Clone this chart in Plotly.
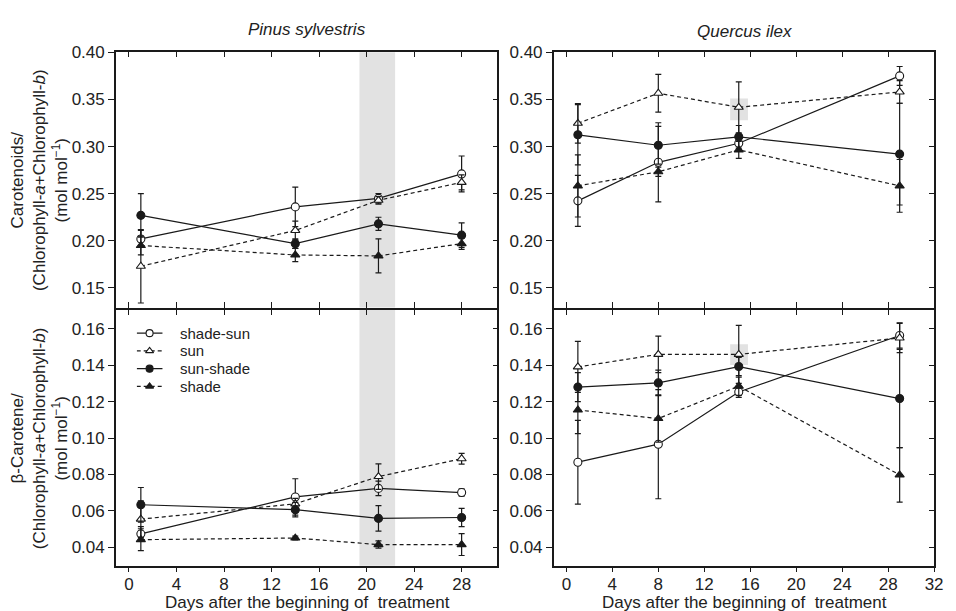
import plotly.graph_objects as go

W, H = 956, 611

# ---------------- data ----------------
series_names = ["shade-sun", "sun", "sun-shade", "shade"]
pinus_days = [1, 14, 21, 28]
quercus_days = [1, 8, 15, 29]

# Pinus sylvestris, carotenoids / (Chl a + Chl b)
pinus_car_shade_sun = [0.202, 0.236, 0.245, 0.271]
pinus_car_shade_sun_err = [0.009, 0.021, 0.005, 0.019]
pinus_car_sun = [0.173, 0.211, 0.243, 0.262]
pinus_car_sun_err = [0.039, 0.010, 0.004, 0.008]
pinus_car_sun_shade = [0.227, 0.197, 0.218, 0.206]
pinus_car_sun_shade_err = [0.023, 0.005, 0.007, 0.013]
pinus_car_shade = [0.195, 0.185, 0.184, 0.197]
pinus_car_shade_err = [0.010, 0.007, 0.018, 0.006]

# Pinus sylvestris, beta-carotene / (Chl a + Chl b)
pinus_beta_shade_sun = [0.0473, 0.0676, 0.0723, 0.0700]
pinus_beta_shade_sun_err = [0.004, 0.010, 0.004, 0.002]
pinus_beta_sun = [0.0554, 0.0638, 0.0788, 0.0886]
pinus_beta_sun_err = [0.010, 0.003, 0.007, 0.003]
pinus_beta_sun_shade = [0.0633, 0.0606, 0.0558, 0.0563]
pinus_beta_sun_shade_err = [0.0095, 0.004, 0.007, 0.005]
pinus_beta_shade = [0.0441, 0.0450, 0.0414, 0.0414]
pinus_beta_shade_err = [0.006, 0.001, 0.002, 0.006]

# Quercus ilex, carotenoids / (Chl a + Chl b)
quercus_car_shade_sun = [0.2424, 0.2833, 0.3035, 0.3750]
quercus_car_shade_sun_err = [0.027, 0.042, 0.008, 0.010]
quercus_car_sun = [0.3247, 0.3566, 0.3417, 0.3580]
quercus_car_sun_err = [0.021, 0.020, 0.027, 0.012]
quercus_car_sun_shade = [0.3125, 0.3014, 0.3104, 0.2920]
quercus_car_sun_shade_err = [0.032, 0.020, 0.012, 0.054]
quercus_car_shade = [0.2583, 0.2733, 0.2965, 0.2583]
quercus_car_shade_err = [0.033, 0.005, 0.009, 0.028]

# Quercus ilex, beta-carotene / (Chl a + Chl b)
quercus_beta_shade_sun = [0.0867, 0.0966, 0.1253, 0.1564]
quercus_beta_shade_sun_err = [0.023, 0.030, 0.003, 0.007]
quercus_beta_sun = [0.1391, 0.1460, 0.1460, 0.1550]
quercus_beta_sun_err = [0.014, 0.010, 0.016, 0.008]
quercus_beta_sun_shade = [0.1280, 0.1303, 0.1393, 0.1217]
quercus_beta_sun_shade_err = [0.008, 0.007, 0.005, 0.027]
quercus_beta_shade = [0.1154, 0.1107, 0.1285, 0.0797]
quercus_beta_shade_err = [0.013, 0.013, 0.005, 0.015]

# highlighted regions
pinus_highlight_days = [19.4, 22.4]
quercus_highlight_days = [14.25, 15.8]
quercus_car_highlight = [0.328, 0.351]
quercus_beta_highlight = [0.1402, 0.1515]

# tick values
pinus_xticks = [0, 4, 8, 12, 16, 20, 24, 28]
quercus_xticks = [0, 4, 8, 12, 16, 20, 24, 28, 32]
car_yticks = [0.15, 0.20, 0.25, 0.30, 0.35, 0.40]
beta_yticks = [0.04, 0.06, 0.08, 0.10, 0.12, 0.14, 0.16]

# ---------------- styles ----------------
INK = "#1a1a1a"
FONT = "Liberation Sans, Arial, sans-serif"
styles = {
    "shade-sun": dict(dash="solid", symbol="circle", fill="white"),
    "sun": dict(dash="4px,3px", symbol="triangle-up", fill="white"),
    "sun-shade": dict(dash="solid", symbol="circle", fill=INK),
    "shade": dict(dash="4px,3px", symbol="triangle-up", fill=INK),
}
msize = {"circle": 8, "triangle-up": 8}

def px_x(p):
    return p / W

def px_y(p):
    return 1 - p / H

# panel domains (pixels -> paper)
LEFT_X = [px_x(117), px_x(502)]
RIGHT_X = [px_x(559), px_x(943)]
TOP_Y = [px_y(303), px_y(44)]
BOT_Y = [px_y(565), px_y(305.5)]

PINUS_XR = [-1.1, 31.0]
QUERCUS_XR = [-1.1, 32.0]
CAR_YR = [0.1292, 0.40]
BETA_YR = [0.0298, 0.1704]

fig = go.Figure()

panels = [
    ("x", "y", pinus_days, [
        (pinus_car_shade_sun, pinus_car_shade_sun_err),
        (pinus_car_sun, pinus_car_sun_err),
        (pinus_car_sun_shade, pinus_car_sun_shade_err),
        (pinus_car_shade, pinus_car_shade_err)]),
    ("x2", "y2", quercus_days, [
        (quercus_car_shade_sun, quercus_car_shade_sun_err),
        (quercus_car_sun, quercus_car_sun_err),
        (quercus_car_sun_shade, quercus_car_sun_shade_err),
        (quercus_car_shade, quercus_car_shade_err)]),
    ("x3", "y3", pinus_days, [
        (pinus_beta_shade_sun, pinus_beta_shade_sun_err),
        (pinus_beta_sun, pinus_beta_sun_err),
        (pinus_beta_sun_shade, pinus_beta_sun_shade_err),
        (pinus_beta_shade, pinus_beta_shade_err)]),
    ("x4", "y4", quercus_days, [
        (quercus_beta_shade_sun, quercus_beta_shade_sun_err),
        (quercus_beta_sun, quercus_beta_sun_err),
        (quercus_beta_sun_shade, quercus_beta_sun_shade_err),
        (quercus_beta_shade, quercus_beta_shade_err)]),
]

for xa, ya, days, series in panels:
    for name, (vals, errs) in zip(series_names, series):
        st = styles[name]
        fig.add_trace(go.Scatter(
            x=days, y=vals, xaxis=xa, yaxis=ya, name=name,
            mode="lines+markers", showlegend=False, hoverinfo="skip",
            line=dict(color=INK, width=1.2, dash=st["dash"]),
            marker=dict(symbol=st["symbol"], size=msize[st["symbol"]],
                        color=st["fill"], line=dict(color=INK, width=1.1)),
            error_y=dict(type="data", array=errs, visible=True,
                         color=INK, thickness=1.2, width=3),
        ))

# empty traces so the mirror (top/right) overlay axes are drawn
for k in range(5, 9):
    fig.add_trace(go.Scatter(x=[None], y=[None], xaxis=f"x{k}", yaxis=f"y{k}",
                             showlegend=False, hoverinfo="skip"))

# ---------------- manual legend (bottom-left panel) ----------------
for i, name in enumerate(series_names):
    st = styles[name]
    fig.add_trace(go.Scatter(
        x=[0, 1], y=[i, i], xaxis="x9", yaxis="y9", mode="lines",
        showlegend=False, hoverinfo="skip",
        line=dict(color=INK, width=1.2, dash=st["dash"])))
    fig.add_trace(go.Scatter(
        x=[0.5], y=[i], xaxis="x9", yaxis="y9", mode="markers",
        showlegend=False, hoverinfo="skip",
        marker=dict(symbol=st["symbol"], size=7, color=st["fill"],
                    line=dict(color=INK, width=1.1))))

axis_common = dict(showline=True, linecolor=INK, linewidth=1.5, showgrid=False,
                   zeroline=False, tickcolor=INK, tickwidth=1.2, ticklen=6,
                   tickfont=dict(family=FONT, size=17, color="#222"))

def xaxis(domain, rng, ticks_vals, anchor, labels, ticks_dir):
    d = dict(axis_common, domain=domain, range=rng, tickvals=ticks_vals,
             anchor=anchor, showticklabels=labels, ticks=ticks_dir)
    if labels:
        d["ticklen"] = 5
        d["ticklabelstandoff"] = -3
    return d

def yaxis(domain, rng, ticks_vals, anchor):
    return dict(axis_common, domain=domain, range=rng, tickvals=ticks_vals,
                anchor=anchor, ticks="outside", tickformat=".2f")

layout = dict(
    width=W, height=H, margin=dict(l=0, r=0, t=0, b=0),
    paper_bgcolor="white", plot_bgcolor="rgba(0,0,0,0)",
    showlegend=False, hovermode=False,
    font=dict(family=FONT, size=17, color="#222"),
    xaxis=xaxis(LEFT_X, PINUS_XR, pinus_xticks, "y", False, "inside"),
    yaxis=yaxis(TOP_Y, CAR_YR, car_yticks, "x"),
    xaxis2=xaxis(RIGHT_X, QUERCUS_XR, quercus_xticks, "y2", False, "inside"),
    yaxis2=yaxis(TOP_Y, CAR_YR, car_yticks, "x2"),
    xaxis3=xaxis(LEFT_X, PINUS_XR, pinus_xticks, "y3", True, "outside"),
    yaxis3=yaxis(BOT_Y, BETA_YR, beta_yticks, "x3"),
    xaxis4=xaxis(RIGHT_X, QUERCUS_XR, quercus_xticks, "y4", True, "outside"),
    yaxis4=yaxis(BOT_Y, BETA_YR, beta_yticks, "x4"),
)

# mirror axes with inward ticks
mirror_pairs = [(5, "x", "y", PINUS_XR, pinus_xticks, CAR_YR, car_yticks),
                (6, "x2", "y2", QUERCUS_XR, quercus_xticks, CAR_YR, car_yticks),
                (7, "x3", "y3", PINUS_XR, pinus_xticks, BETA_YR, beta_yticks),
                (8, "x4", "y4", QUERCUS_XR, quercus_xticks, BETA_YR, beta_yticks)]
for k, bx, by, xr, xt, yr, yt in mirror_pairs:
    layout[f"xaxis{k}"] = dict(axis_common, overlaying=bx, side="top", anchor=f"y{k}",
                               range=xr, tickvals=xt, ticks="inside",
                               showticklabels=False, ticklen=5)
    layout[f"yaxis{k}"] = dict(axis_common, overlaying=by, side="right", anchor=f"x{k}",
                               range=yr, tickvals=yt, ticks="inside",
                               showticklabels=False, ticklen=5)

# legend axis (rows 18 px apart)
layout["xaxis9"] = dict(domain=[px_x(138), px_x(268)], range=[0, 5], visible=False,
                        anchor="y9", fixedrange=True)
layout["yaxis9"] = dict(domain=[px_y(392), px_y(320)], range=[3.5, -0.5],
                        visible=False, anchor="x9", fixedrange=True)

fig.update_layout(**layout)

# ---------------- shapes ----------------
GRAY = "#e2e2e2"
shapes = []
for xr_, yr_ in (("x", "y domain"), ("x3", "y3 domain")):
    shapes.append(dict(type="rect", xref=xr_, yref=yr_,
                       x0=pinus_highlight_days[0], x1=pinus_highlight_days[1],
                       y0=0, y1=1, fillcolor=GRAY, line=dict(width=0), layer="below"))
shapes.append(dict(type="rect", xref="x2", yref="y2",
                   x0=quercus_highlight_days[0], x1=quercus_highlight_days[1],
                   y0=quercus_car_highlight[0], y1=quercus_car_highlight[1],
                   fillcolor=GRAY, line=dict(width=0), layer="below"))
shapes.append(dict(type="rect", xref="x4", yref="y4",
                   x0=quercus_highlight_days[0], x1=quercus_highlight_days[1],
                   y0=quercus_beta_highlight[0], y1=quercus_beta_highlight[1],
                   fillcolor=GRAY, line=dict(width=0), layer="below"))
fig.update_layout(shapes=shapes)

# ---------------- annotations ----------------
ann_font = dict(family=FONT, size=17, color="#222")
leg_font = dict(family=FONT, size=15, color="#222")
y_title_car = "Carotenoids/<br>(Chlorophyll-<i>a</i>+Chlorophyll-<i>b</i>)<br>(mol mol<sup>−1</sup>)"
y_title_beta = "β-Carotene/<br>(Chlorophyll-<i>a</i>+Chlorophyll-<i>b</i>)<br>(mol mol<sup>−1</sup>)"
x_title = "Days after the beginning of&nbsp; treatment"

annotations = [
    dict(text="<i>Pinus sylvestris</i>", x=px_x(310), y=px_y(21), xref="paper", yref="paper",
         showarrow=False, xanchor="center", yanchor="middle", font=ann_font),
    dict(text="<i>Quercus ilex</i>", x=px_x(752), y=px_y(23), xref="paper", yref="paper",
         showarrow=False, xanchor="center", yanchor="middle", font=ann_font),
    dict(text=y_title_car, x=px_x(40), y=px_y(174), xref="paper", yref="paper",
         showarrow=False, textangle=-90, xanchor="center", yanchor="middle", font=ann_font),
    dict(text=y_title_beta, x=px_x(40), y=px_y(436), xref="paper", yref="paper",
         showarrow=False, textangle=-90, xanchor="center", yanchor="middle", font=ann_font),
    dict(text=x_title, x=px_x(310), y=px_y(602), xref="paper", yref="paper",
         showarrow=False, xanchor="center", yanchor="middle", font=ann_font),
    dict(text=x_title, x=px_x(752), y=px_y(602), xref="paper", yref="paper",
         showarrow=False, xanchor="center", yanchor="middle", font=ann_font),
]
for i, name in enumerate(series_names):
    annotations.append(dict(text=name, x=1.62, y=i, xref="x9", yref="y9",
                            showarrow=False, xanchor="left", yanchor="middle",
                            font=leg_font))
fig.update_layout(annotations=annotations)

fig.write_html("out.html")
